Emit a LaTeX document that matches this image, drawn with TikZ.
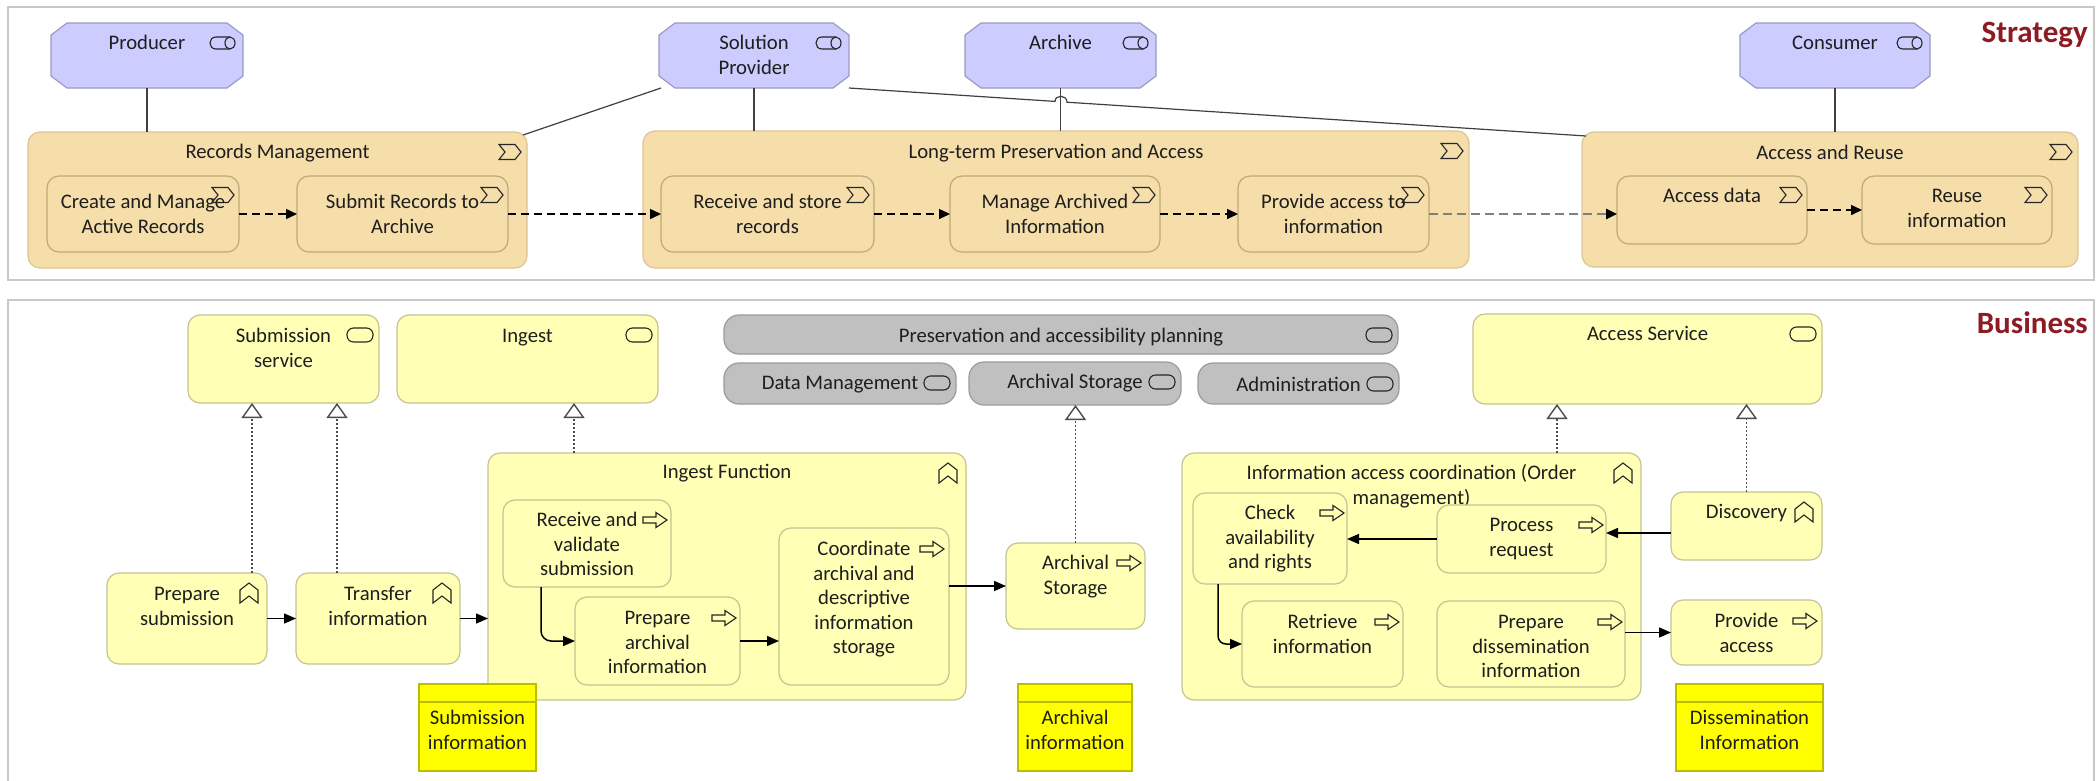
\documentclass[tikz,border=0pt]{standalone}
\usepackage{fontspec}
\setmainfont{Carlito}
\usetikzlibrary{arrows.meta,calc}
\definecolor{stratfill}{HTML}{F5DEAA}
\definecolor{stratline}{HTML}{C2A878}
\definecolor{stratouter}{HTML}{DCC592}
\definecolor{rolefill}{HTML}{CCCCFF}
\definecolor{roleline}{HTML}{9A9AC4}
\definecolor{busfill}{HTML}{FFFFB5}
\definecolor{busline}{HTML}{C4C492}
\definecolor{grayfill}{HTML}{C0C0C0}
\definecolor{grayline}{HTML}{9A9A9A}
\definecolor{datafill}{HTML}{FFFF00}
\definecolor{dataline}{HTML}{BDBD00}
\definecolor{framecol}{HTML}{C8C8C8}
\definecolor{layerred}{HTML}{8E1B24}
\definecolor{txt}{HTML}{1E1E1E}
\tikzset{
  base/.style={inner sep=0pt, outer sep=0pt, line width=1.2pt},
  rolebox/.style={base, draw=none},
  vsouter/.style={base, draw=stratouter, fill=stratfill, rounded corners=12pt},
  vsbox/.style={base, draw=stratline, fill=stratfill, rounded corners=12pt},
  busbox/.style={base, draw=busline, fill=busfill, rounded corners=12pt},
  graybox/.style={base, draw=grayline, fill=grayfill, rounded corners=15pt},
  databox/.style={base, draw=dataline, fill=datafill},
  framebox/.style={base, draw=framecol, line width=1.5pt},
  lbl/.style={inner sep=0pt, align=center, text=txt, font=\fontsize{20.7}{24.5}\selectfont},
  layerlbl/.style={inner sep=0pt, text=layerred, font=\fontsize{31}{36}\selectfont\bfseries},
  icon/.style={draw=black!85, line width=1.1pt, fill=none},
  roleicon/.pic={\draw[icon] (7,-6) -- (-7,-6) .. controls (-15,-6) and (-15,6) .. (-7,6) -- (7,6);
                 \draw[icon] (7,0) ellipse [x radius=5, y radius=6];},
  vsicon/.pic={\draw[icon] (-11,-7.5) -- (5,-7.5) -- (11,0) -- (5,7.5) -- (-11,7.5) -- (-5,0) -- cycle;},
  svcicon/.pic={\draw[icon, rounded corners=6.5pt] (-13,-7) rectangle (13,7);},
  fnicon/.pic={\draw[icon] (-9,10) -- (-9,-3) -- (0,-10) -- (9,-3) -- (9,10) -- (0,3) -- cycle;},
  procicon/.pic={\draw[icon] (-12,-3) -- (1,-3) -- (1,-7.5) -- (12,0) -- (1,7.5) -- (1,3) -- (-12,3) -- cycle;},
  assoc/.style={draw=black!75, line width=1.2pt},
  flow/.style={draw=black, line width=1.5pt, dash pattern=on 8pt off 5pt, -{Triangle[length=11pt,width=10pt]}},
  gflow/.style={draw=black!50, line width=2.5pt, dash pattern=on 9pt off 5pt, -{Triangle[length=11pt,width=10pt,color=black]}},
  trig/.style={draw=black, line width=1.5pt, -{Triangle[length=12pt,width=10pt]}},
  real/.style={draw=black!70, line width=1.1pt, dash pattern=on 2pt off 2pt, -{Triangle[open,fill=white,length=15pt,width=21pt,line width=1.4pt]}},
}
\newcommand\bx[8]{%
  \node[#1, minimum width={(#4)-(#2)}, minimum height={(#5)-(#3)}] (#6) at ({((#2)+(#4))/2},{((#3)+(#5))/2}) {};%
  \node[lbl, anchor=north] at ({((#2)+(#4))/2},{(#7)-10.6}) {\strut #8};}
\newcommand\octo[1]{\path[draw=roleline, fill=rolefill, line width=1.2pt]
  ($(#1.north west)+(16,0)$) -- ($(#1.north east)+(-16,0)$) -- ($(#1.north east)+(0,12)$) --
  ($(#1.south east)+(0,-12)$) -- ($(#1.south east)+(-16,0)$) -- ($(#1.south west)+(16,0)$) --
  ($(#1.south west)+(0,-12)$) -- ($(#1.north west)+(0,12)$) -- cycle;}
\newcommand\rbx[7]{%
  \node[rolebox, minimum width={(#3)-(#1)}, minimum height={(#4)-(#2)}] (#5) at ({((#1)+(#3))/2},{((#2)+(#4))/2}) {};%
  \octo{#5}%
  \node[lbl, anchor=north] at ({((#1)+(#3))/2},{(#6)-10.6}) {\strut #7};}
\newcommand\ico[4]{\pic at ($(#2.north east)+(-#3,#4)$) {#1};}
\newcommand\dhead[1]{\draw[dataline, line width=1.2pt] ($(#1.north west)+(0,18)$) -- ($(#1.north east)+(0,18)$);}
\begin{document}
\begin{tikzpicture}[x=1pt,y=-1pt]
\useasboundingbox (0,0) rectangle (2096,780);
\fill[white] (0,0) rectangle (2096,780);
% frames
\node[framebox, minimum width=2086, minimum height=273] (sframe) at (1051,143.5) {};
\draw[framecol, line width=1.5pt] (8,795) -- (8,300) -- (2094,300) -- (2094,795);
\node[layerlbl, anchor=base east] (strat) at (2088,42) {Strategy};
\node[layerlbl, anchor=base east] (bus) at (2088,333) {Business};
% strategy roles
\rbx{51}{23}{243}{88}{prod}{43}{Producer}
\rbx{659}{23}{849}{88}{sp}{43}{Solution\\Provider}
\rbx{965}{23}{1156}{88}{arch}{43}{Archive}
\rbx{1740}{23}{1930}{88}{cons}{43}{Consumer}
% value streams
\bx{vsouter}{28}{132}{527}{268}{rm}{152}{Records Management}
\bx{vsouter}{643}{131}{1469}{268}{ltp}{152}{Long-term Preservation and Access}
\bx{vsouter}{1582}{132}{2078}{267}{ar}{153}{Access and Reuse}
\bx{vsbox}{47}{176}{239}{252}{cm}{202}{Create and Manage\\Active Records}
\bx{vsbox}{297}{176}{508}{252}{sr}{202}{Submit Records to\\Archive}
\bx{vsbox}{661}{176}{874}{252}{rs}{202}{Receive and store\\records}
\bx{vsbox}{950}{176}{1160}{252}{ma}{202}{Manage Archived\\Information}
\bx{vsbox}{1238}{176}{1429}{252}{pai}{202}{Provide access to\\information}
\bx{vsbox}{1617}{176}{1807}{244}{ad}{196}{Access data}
\bx{vsbox}{1862}{176}{2052}{244}{ri}{196}{Reuse\\information}
% business services
\bx{busbox}{188}{315}{379}{403}{ss}{336}{Submission\\service}
\bx{busbox}{397}{315}{658}{403}{ing}{336}{Ingest}
\bx{graybox}{724}{315}{1398}{354}{pap}{336}{Preservation and accessibility planning}
\bx{graybox}{724}{363}{956}{404}{dm}{383}{Data Management}
\bx{graybox}{969}{362}{1181}{405}{asg}{382}{Archival Storage}
\bx{graybox}{1198}{363}{1399}{404}{adm}{385}{Administration}
\bx{busbox}{1473}{314}{1822}{404}{acs}{334}{Access Service}
% business functions/processes
\bx{busbox}{107}{573}{267}{664}{ps}{594}{Prepare\\submission}
\bx{busbox}{296}{573}{460}{664}{ti}{594}{Transfer\\information}
\bx{busbox}{488}{453}{966}{700}{ingf}{472}{Ingest Function}
\bx{busbox}{503}{500}{671}{587}{rv}{520}{Receive and\\validate\\submission}
\bx{busbox}{575}{597}{740}{685}{pa}{618}{Prepare\\archival\\information}
\bx{busbox}{779}{528}{949}{685}{co}{549}{Coordinate\\archival and\\descriptive\\information\\storage}
\bx{busbox}{1006}{543}{1145}{629}{asp}{563}{Archival\\Storage}
\bx{busbox}{1182}{453}{1641}{700}{iac}{473}{Information access coordination (Order\\management)}
\bx{busbox}{1193}{493}{1347}{584}{ch}{513}{Check\\availability\\and rights}
\bx{busbox}{1437}{505}{1606}{573}{pr}{525}{Process\\request}
\bx{busbox}{1242}{601}{1403}{687}{ret}{622}{Retrieve\\information}
\bx{busbox}{1437}{601}{1625}{687}{pd}{622}{Prepare\\dissemination\\information}
\bx{busbox}{1671}{492}{1822}{560}{disc}{512}{Discovery}
\bx{busbox}{1671}{600}{1822}{665}{pacc}{621}{Provide\\access}
% data objects
\bx{databox}{419}{684}{536}{771}{sinfo}{718}{Submission\\information}
\dhead{sinfo}
\bx{databox}{1018}{684}{1132}{771}{ainfo}{718}{Archival\\information}
\dhead{ainfo}
\bx{databox}{1676}{684}{1823}{771}{dinfo}{718}{Dissemination\\Information}
\dhead{dinfo}
% icons
\ico{roleicon}{prod}{20}{20}
\ico{roleicon}{sp}{20}{20}
\ico{roleicon}{arch}{20}{20}
\ico{roleicon}{cons}{20}{20}
\ico{vsicon}{rm}{17}{20}
\ico{vsicon}{ltp}{17}{20}
\ico{vsicon}{ar}{17}{20}
\ico{vsicon}{cm}{16}{19}
\ico{vsicon}{sr}{16}{19}
\ico{vsicon}{rs}{16}{19}
\ico{vsicon}{ma}{16}{19}
\ico{vsicon}{pai}{16}{19}
\ico{vsicon}{ad}{16}{19}
\ico{vsicon}{ri}{16}{19}
\ico{svcicon}{ss}{19}{20}
\ico{svcicon}{ing}{19}{20}
\ico{svcicon}{pap}{19}{20}
\ico{svcicon}{dm}{19}{20}
\ico{svcicon}{asg}{19}{20}
\ico{svcicon}{adm}{19}{21}
\ico{svcicon}{acs}{19}{20}
\ico{fnicon}{ps}{18}{20}
\ico{fnicon}{ti}{18}{20}
\ico{fnicon}{ingf}{18}{20}
\ico{fnicon}{iac}{18}{20}
\ico{fnicon}{disc}{18}{20}
\ico{procicon}{rv}{16}{20}
\ico{procicon}{pa}{16}{21}
\ico{procicon}{co}{17}{21}
\ico{procicon}{asp}{16}{20}
\ico{procicon}{ch}{15}{20}
\ico{procicon}{pr}{15}{20}
\ico{procicon}{ret}{16}{21}
\ico{procicon}{pd}{15}{21}
\ico{procicon}{pacc}{17}{21}
% strategy connectors
\draw[assoc] (prod.south) -- (prod.south |- rm.north);
\draw[assoc] (sp.south) -- (sp.south |- ltp.north);
\draw[assoc] (arch.south) -- (arch.south |- ltp.north);
\draw[assoc] (cons.south) -- (cons.south |- ar.north);
\draw[assoc] ($(sp.south west)+(2,0)$) -- ($(rm.north east)+(-4,3)$);
\draw[assoc] (sp.south east) -- (1055,101.4) .. controls (1055,94.5) and (1067,94.5) .. (1067,102.2) -- ($(ar.north west)+(4,4)$);
\draw[flow] (cm.east) -- (sr.west);
\draw[flow] (sr.east) -- (rs.west);
\draw[flow] (rs.east) -- (ma.west);
\draw[flow] (ma.east) -- (pai.west);
\draw[gflow] (pai.east) -- (pai.east -| ad.west);
\draw[flow] (ad.east) -- (ri.west);
% business connectors
\coordinate (ssa) at ($(ss.south west)+(64,0)$);
\coordinate (ssb) at ($(ss.south west)+(149,0)$);
\coordinate (inga) at ($(ing.south west)+(177,0)$);
\coordinate (acsa) at ($(acs.south west)+(84,0)$);
\draw[real] (ps.north -| ssa) -- (ssa);
\draw[real] (ti.north -| ssb) -- (ssb);
\draw[real] (ingf.north -| inga) -- (inga);
\draw[real] (asp.north) -- (asp.north |- asg.south);
\draw[real] (iac.north -| acsa) -- (acsa);
\draw[real] (disc.north) -- (disc.north |- acs.south);
\draw[trig] (ps.east) -- (ti.west);
\draw[trig] (ti.east) -- (ti.east -| ingf.west);
\coordinate (rva) at ($(rv.south west)+(38,0)$);
\draw[trig, rounded corners=10pt] (rva) |- (pa.west);
\draw[trig] (pa.east) -- (pa.east -| co.west);
\draw[trig] (asp.west -| co.east) -- (asp.west);
\draw[trig] (pr.west) -- (pr.west -| ch.east);
\coordinate (disca) at ($(disc.west)+(0,7)$);
\draw[trig] (disca) -- (disca -| pr.east);
\coordinate (cha) at ($(ch.south west)+(25,0)$);
\draw[trig, rounded corners=8pt] (cha) |- (ret.west);
\draw[trig] (pacc.west -| pd.east) -- (pacc.west);
\end{tikzpicture}
\end{document}
